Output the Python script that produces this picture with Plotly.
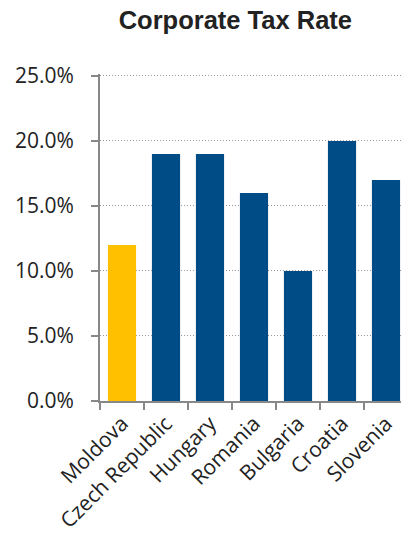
import plotly.graph_objects as go

countries = ["Moldova", "Czech Republic", "Hungary", "Romania", "Bulgaria", "Croatia", "Slovenia"]
tax_rates = [0.12, 0.19, 0.19, 0.16, 0.10, 0.20, 0.17]
bar_colors = ["#FFC000", "#004C87", "#004C87", "#004C87", "#004C87", "#004C87", "#004C87"]
y_ticks = [0, 0.05, 0.10, 0.15, 0.20, 0.25]

fig = go.Figure(go.Bar(x=countries, y=tax_rates, marker=dict(color=bar_colors, line=dict(width=0))))

fig.update_layout(
    width=401, height=531,
    margin=dict(l=92, r=1, t=66, b=138),
    paper_bgcolor="white", plot_bgcolor="white",
    bargap=0.36,
    showlegend=False,
    title=dict(text="<b>Corporate Tax Rate</b>", x=0.567, xanchor="center", y=0.978, yanchor="middle",
               font=dict(family="Liberation Sans, Arial", size=25.5, color="#222222")),
    font=dict(family="Open Sans, Noto Sans, sans-serif", color="#222222"),
)
fig.update_yaxes(
    range=[0, 0.2515], tickvals=y_ticks, tickformat=".1%",
    showgrid=True, gridcolor="#999999", griddash="1px,2px", gridwidth=1,
    showline=True, linecolor="#888888", linewidth=2,
    ticks="outside", ticklen=7, tickcolor="#888888", tickwidth=2,
    ticklabelstandoff=13,
    tickfont=dict(size=21), zeroline=False,
)
fig.update_xaxes(
    tickangle=-45, tickson="boundaries", ticks="outside", ticklen=7,
    tickcolor="#888888", tickwidth=2,
    showline=True, linecolor="#888888", linewidth=2,
    tickfont=dict(size=21), showgrid=False,
)

fig.write_html("out.html")
